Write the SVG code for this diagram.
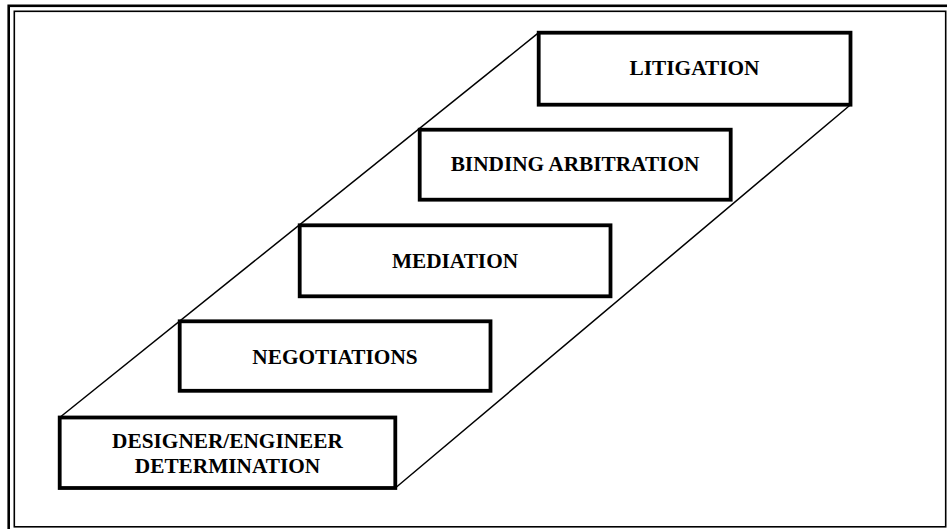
<svg xmlns="http://www.w3.org/2000/svg" width="947" height="529" viewBox="0 0 947 529">
  <style>
    .frame { fill: none; stroke: #000; }
    .edge { fill: none; stroke: #000; stroke-width: 1.5; }
    .step rect { fill: #fff; stroke: #000; stroke-width: 3.8; }
    .step text { font-family: "Liberation Serif", "Times New Roman", serif; font-weight: bold; font-size: 21.3px; fill: #000; text-anchor: middle; }
  </style>
  <rect width="947" height="529" fill="#fff"/>

  <!-- double page border -->
  <rect class="frame" x="8.7" y="5.8" width="960" height="540" stroke-width="2.6"/>
  <rect class="frame" x="14.3" y="11.3" width="931.4" height="515.5" stroke-width="1.6"/>

  <!-- staircase side edges -->
  <g id="connectors">
    <line class="edge" x1="59.7" y1="417.5" x2="538.7" y2="32.7"/>
    <line class="edge" x1="395.3" y1="488" x2="850.5" y2="104.7"/>
  </g>

  <g id="designer" class="step">
    <rect x="59.7" y="417.5" width="335.6" height="70.5"/>
    <text x="227.5" y="448.3">DESIGNER/ENGINEER</text>
    <text x="227.5" y="472.7">DETERMINATION</text>
  </g>

  <g id="negotiations" class="step">
    <rect x="179.7" y="321.3" width="310.8" height="69.5"/>
    <text x="335" y="363.5">NEGOTIATIONS</text>
  </g>

  <g id="mediation" class="step">
    <rect x="299.7" y="225.3" width="310.8" height="71"/>
    <text x="455" y="268">MEDIATION</text>
  </g>

  <g id="arbitration" class="step">
    <rect x="419.7" y="129.7" width="311" height="70"/>
    <text x="575" y="171">BINDING ARBITRATION</text>
  </g>

  <g id="litigation" class="step">
    <rect x="538.7" y="32.7" width="311.8" height="72"/>
    <text x="694.5" y="75">LITIGATION</text>
  </g>
</svg>
